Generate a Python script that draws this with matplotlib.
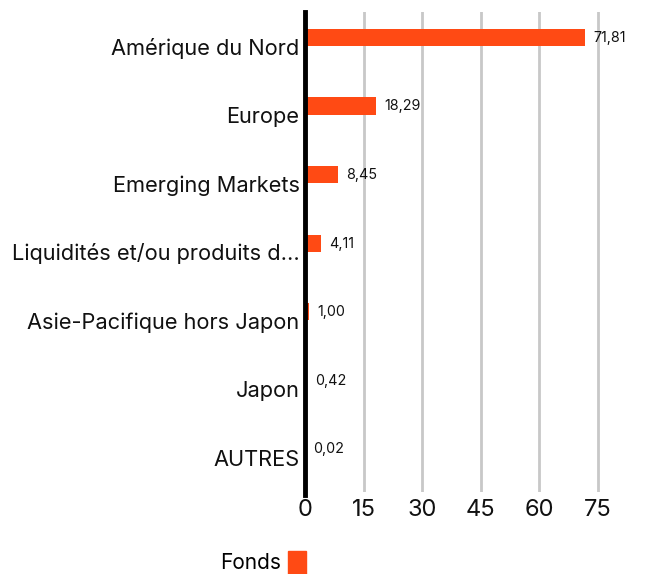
import numpy as np
import matplotlib.pyplot as plt
from matplotlib.patches import Patch

categories = ["Amérique du Nord", "Europe", "Emerging Markets",
              "Liquidités et/ou produits d...", "Asie-Pacifique hors Japon",
              "Japon", "AUTRES"]
values = [71.81, 18.29, 8.45, 4.11, 1.00, 0.42, 0.02]
value_labels = ["71,81", "18,29", "8,45", "4,11", "1,00", "0,42", "0,02"]
xticks = [0, 15, 30, 45, 60, 75]
series_name = "Fonds"

bar_color = "#FF4A14"
font = "Inter"

fig = plt.figure(figsize=(6.45, 5.74), dpi=100)
ax = fig.add_axes([0.473, 0.143, 0.484, 0.836])

pos = np.arange(len(categories))
bar_offset = -0.13
bar_h = 0.25
ax.barh(pos + bar_offset, values, height=bar_h, color=bar_color, zorder=3)

# value labels sit just right of each bar, near its top edge
for p, v, lab in zip(pos, values, value_labels):
    ax.annotate(lab, (v, p + bar_offset - bar_h / 2), xytext=(6, -1.5),
                textcoords="offset points", va="top", ha="left",
                fontsize=10.3, family=font, color="#111111")

ax.set_ylim(len(categories) - 0.5, -0.5)
ax.set_xlim(0, 80)
ax.set_yticks(pos)
ax.set_yticklabels(categories, fontsize=15.7, family=font, color="#111111")
ax.set_xticks(xticks)
ax.set_xticklabels([str(t) for t in xticks], fontsize=17, family=font, color="#111111")
ax.tick_params(length=0, pad=4)
ax.tick_params(axis="x", pad=5)

for t in xticks[1:]:
    ax.axvline(t, color="#c8c8c8", lw=2, zorder=1)

for s in ["top", "right", "bottom"]:
    ax.spines[s].set_visible(False)
ax.spines["left"].set_linewidth(3.5)
ax.spines["left"].set_color("black")
ax.spines["left"].set_bounds(len(categories) - 0.45, -0.5)
ax.spines["left"].set_zorder(4)

leg = fig.legend(handles=[Patch(color=bar_color)], labels=[series_name],
                 loc="center left", bbox_to_anchor=(0.312, 0.02),
                 frameon=False, markerfirst=False, handlelength=0.85,
                 handleheight=1.3, handletextpad=0.35,
                 prop={"family": font, "size": 15})

fig.savefig("out.png", dpi=100)
